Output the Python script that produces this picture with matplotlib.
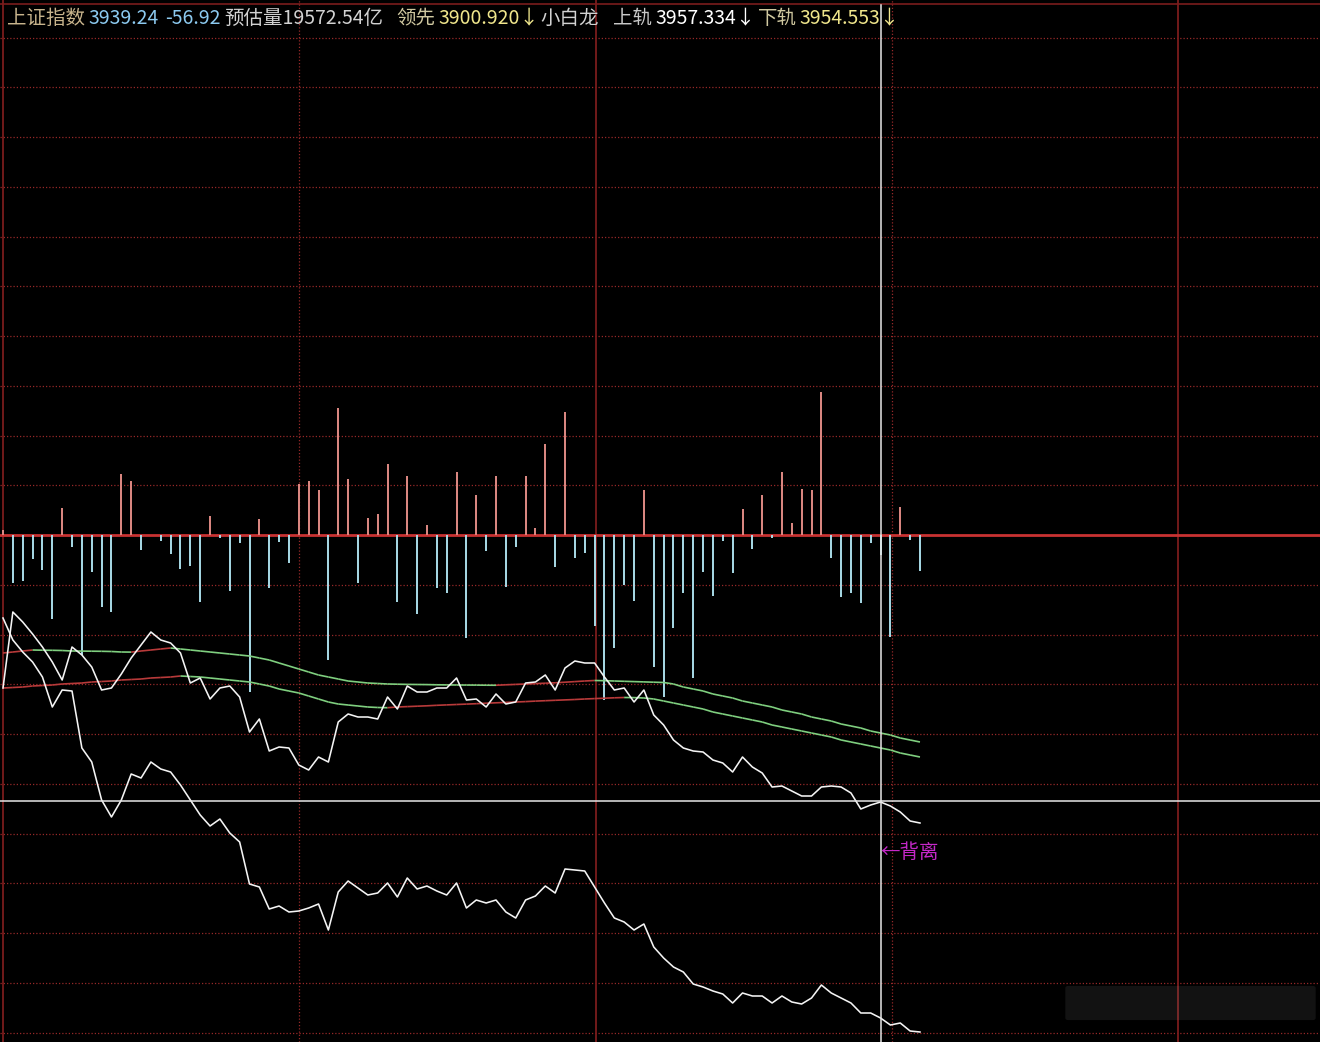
import matplotlib
matplotlib.use('Agg')
import matplotlib.pyplot as plt
from matplotlib.collections import LineCollection
from matplotlib.patches import FancyBboxPatch
import numpy as np

plt.rcParams['font.family'] = ['Noto Sans CJK SC', 'DejaVu Sans']

# ---------------------------------------------------------------------------
# data (one value per minute bar, zero line = 0)
# ---------------------------------------------------------------------------
bars = [5, -48, -46, -24, -35, -84, 27, -12, -120, -37,
        -72, -77, 61, 54, -15, 0, -6, -19, -34, -31,
        -67, 19, -3, -56, -8, -157, 16, -53, -7, -28,
        51, 54, 45, -125, 127, 56, -48, 17, 21, 71,
        -67, 59, -79, 10, -53, -58, 63, -103, 40, -16,
        59, -52, -12, 59, 7, 91, -32, 123, -23, -18,
        -91, -165, -113, -50, -66, 45, -132, -162, -93, -58,
        -143, -37, -61, -6, -38, 26, -14, 40, -3, 63,
        12, 46, 45, 143, -23, -62, -58, -68, -8, -20,
        -102, 28, -5, -36]

index_line = [-153, -77, -87, -99, -112, -127, -145, -112, -120, -132,
              -155, -153, -139, -123, -110, -97, -105, -108, -118, -148,
              -143, -164, -153, -151, -162, -197, -184, -216, -212, -213,
              -230, -235, -222, -227, -187, -179, -182, -182, -184, -162,
              -174, -151, -157, -157, -153, -153, -143, -165, -164, -172,
              -159, -169, -167, -148, -147, -140, -155, -133, -126, -128,
              -128, -142, -155, -153, -167, -155, -180, -190, -205, -213,
              -216, -217, -225, -228, -237, -222, -232, -238, -252, -251,
              -256, -261, -261, -252, -251, -252, -258, -274, -270, -267,
              -271, -277, -286, -288]

lead_line = [-83, -105, -117, -127, -142, -172, -155, -156, -213, -227,
             -265, -282, -265, -239, -243, -227, -234, -237, -250, -265,
             -280, -291, -284, -298, -307, -349, -352, -374, -371, -377,
             -376, -373, -369, -395, -357, -346, -353, -360, -358, -348,
             -362, -343, -354, -351, -356, -360, -348, -373, -365, -368,
             -365, -377, -383, -365, -361, -351, -358, -334, -335, -336,
             -352, -368, -383, -387, -395, -389, -412, -423, -432, -437,
             -449, -452, -456, -459, -468, -458, -461, -461, -468, -461,
             -467, -469, -463, -450, -458, -463, -468, -478, -478, -483,
             -490, -488, -496, -497]

upper_band = [-118, -117, -116, -115, -115.2, -115.3, -115.5, -116, -116.1, -116.2,
              -116.3, -116.5, -117, -117.1, -116, -115, -114, -113, -114, -115,
              -116, -117, -118, -119, -120, -121, -123, -125, -128, -131,
              -134, -137, -140, -142, -144, -146, -147, -148, -148.5, -149,
              -149.2, -149.4, -149.5, -149.6, -149.8, -149.9, -150, -150.05, -150.1, -150.2,
              -150.25, -149.8, -149.4, -149, -148.6, -148.2, -147.8, -147.2, -146.6, -146,
              -145.5, -145.7, -146, -146.3, -146.6, -146.9, -147.2, -147.5, -149, -152,
              -154, -156, -159, -161, -163, -166, -168, -170, -172, -175,
              -177, -179, -182, -184, -186, -189, -191, -193, -196, -198,
              -200, -203, -205, -207]

lower_band = [-153, -152.5, -152, -151, -150.5, -150, -149, -148.5, -148, -147,
              -146.5, -146, -145, -144.5, -144, -143, -142.5, -142, -141, -141.5,
              -142, -143, -144, -145, -146, -147, -149, -151, -154, -156,
              -158, -161, -164, -167, -169, -170, -171, -172, -172.5, -172.7,
              -172, -171.6, -171.2, -170.8, -170.3, -169.9, -169.5, -169.1, -168.7, -168.2,
              -167.8, -167.4, -167, -166.6, -166.1, -165.7, -165.3, -164.9, -164.5, -164,
              -163.6, -163.2, -162.8, -162.5, -162.6, -163, -164, -166, -168, -170,
              -172, -174, -177, -179, -181, -183, -185, -187, -190, -192,
              -194, -196, -198, -200, -202, -205, -207, -209, -211, -213,
              -215, -218, -220, -222]

cursor_index = 89
cursor_level = -266

# ---------------------------------------------------------------------------
# figure: the whole canvas is one black panel
# ---------------------------------------------------------------------------
W, H = 1320, 1042
fig = plt.figure(figsize=(W / 100, H / 100), dpi=100, facecolor='black')
ax = fig.add_axes([0, 0, 1, 1])
ax.set_facecolor('black')
ax.axis('off')

step = 9.86          # pixels per bar
x0 = 3               # pixel of first bar
zero_px = 535        # pixel row of the zero line


def px_x(p):
    return (p - x0) / step


def px_y(p):
    return zero_px - p


ax.set_xlim(px_x(0), px_x(W))
ax.set_ylim(px_y(H), px_y(0))

grid_red = '#962828'
# dotted horizontal grid
for k in range(-10, 11):
    if k == 0:
        continue
    ax.axhline(k * 49.75, color=grid_red, lw=0.9, ls=(0, (1, 1.6)), zorder=1)
ax.axhline(px_y(4), color='#7a1c1c', lw=1.2, zorder=1)

# vertical grid
for p in (299, 892):
    ax.axvline(px_x(p), color=grid_red, lw=0.9, ls=(0, (1, 1.6)), zorder=1)
for p in (3, 596, 1178):
    ax.axvline(px_x(p), color='#7a1c1c', lw=1.3, zorder=1)

# zero line
ax.axhline(0, color='#c83232', lw=2, zorder=2)

# bars
x = np.arange(len(bars))
b = np.array(bars)
pos = b > 0
ax.vlines(x[pos], 0, b[pos], color='#e08a84', lw=1.4, zorder=3)
ax.vlines(x[~pos], 0, b[~pos], color='#a9dbe8', lw=1.4, zorder=3)


# bands coloured by direction
def band(vals):
    v = np.array(vals)
    xs = np.arange(len(v))
    segs = [[(xs[i], v[i]), (xs[i + 1], v[i + 1])] for i in range(len(v) - 1)]
    cols = ['#b83a3a' if v[i + 1] > v[i] else '#7fcf7f' for i in range(len(v) - 1)]
    ax.add_collection(LineCollection(segs, colors=cols, lw=1.2, zorder=4))


band(upper_band)
band(lower_band)

# white lines
ax.plot(x, index_line, color='#f4f4f4', lw=1.15, zorder=5)
ax.plot(np.arange(len(lead_line)), lead_line, color='#f4f4f4', lw=1.15, zorder=5)

# cursor
ax.axvline(cursor_index, ymin=0, ymax=1 - 5 / H, color='#e6e6e6', lw=1.1, zorder=6)
ax.axhline(cursor_level, color='#e6e6e6', lw=1.1, zorder=6)

ax.text(cursor_index, px_y(852), '←背离', color='#c428c8', fontsize=14,
        ha='left', va='center', zorder=7)

# faint smudged watermark, bottom right
ax.add_patch(FancyBboxPatch((1068 / W, 1 - 1018 / H), 245 / W, 30 / H,
                            boxstyle='round,pad=0.002', transform=ax.transAxes,
                            facecolor='#9a9a9a', edgecolor='none', alpha=0.12,
                            zorder=2))

# ---------------------------------------------------------------------------
# header line
# ---------------------------------------------------------------------------
header = [
    (7, '上证指数', '#c8b48c'),
    (88, '3939.24', '#8ccaf0'),
    (165, '-56.92', '#8ccaf0'),
    (224, '预估量19572.54亿', '#d2d2d2'),
    (396, '领先', '#d0c8a0'),
    (438, '3900.920↓', '#f0e68c'),
    (540, '小白龙', '#d2d2d2'),
    (613, '上轨', '#c8c8c8'),
    (655, '3957.334↓', '#ffffff'),
    (758, '下轨', '#d0c8a0'),
    (799, '3954.553↓', '#f0e68c'),
]
for px, txt, col in header:
    ax.text(px / W, 1 - 18 / H, txt, color=col, fontsize=14,
            ha='left', va='center', transform=ax.transAxes, zorder=8)

fig.savefig('out.png', dpi=100, facecolor='black')
